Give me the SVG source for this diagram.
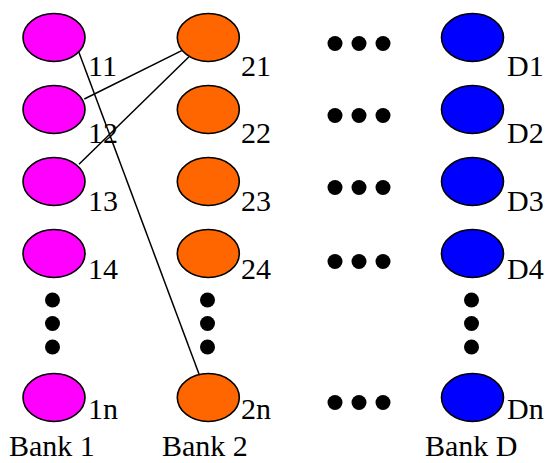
<svg xmlns="http://www.w3.org/2000/svg" width="546" height="463" viewBox="0 0 546 463">
<style>
.b1{fill:#FF00FF;stroke:#000;stroke-width:1.6}
.b2{fill:#FF6600;stroke:#000;stroke-width:1.6}
.bd{fill:#0000FF;stroke:#000;stroke-width:1.6}
text{font-family:"Liberation Serif","Times New Roman",serif;font-size:30px;fill:#000}
.dot{fill:#000}
line{stroke:#000;stroke-width:1.5}
</style>
<rect width="546" height="463" fill="#fff"/>
<g id="connectors">
<line x1="78.7" y1="51.7" x2="199" y2="374"/>
<line x1="84.3" y1="99" x2="181.7" y2="50.7"/>
<line x1="79" y1="164.3" x2="189" y2="56.7"/>
</g>
<g id="n11"><ellipse class="b1" cx="54" cy="37.5" rx="31" ry="24"/><text x="88" y="76">11</text></g>
<g id="n12"><ellipse class="b1" cx="54" cy="109.5" rx="31" ry="24"/><text x="88" y="143">12</text></g>
<g id="n13"><ellipse class="b1" cx="54" cy="181.5" rx="31" ry="24"/><text x="88" y="211">13</text></g>
<g id="n14"><ellipse class="b1" cx="54" cy="253.5" rx="31" ry="24"/><text x="88" y="279">14</text></g>
<g id="n1n"><ellipse class="b1" cx="54" cy="397.5" rx="31" ry="24"/><text x="88" y="419">1n</text></g>
<g id="n21"><ellipse class="b2" cx="208.3" cy="37.5" rx="31" ry="24"/><text x="241" y="76">21</text></g>
<g id="n22"><ellipse class="b2" cx="208.3" cy="109.5" rx="31" ry="24"/><text x="241" y="143">22</text></g>
<g id="n23"><ellipse class="b2" cx="208.3" cy="181.5" rx="31" ry="24"/><text x="241" y="211">23</text></g>
<g id="n24"><ellipse class="b2" cx="208.3" cy="253.5" rx="31" ry="24"/><text x="241" y="279">24</text></g>
<g id="n2n"><ellipse class="b2" cx="208.3" cy="397.5" rx="31" ry="24"/><text x="241" y="419">2n</text></g>
<g id="nD1"><ellipse class="bd" cx="472.5" cy="37.5" rx="31" ry="24"/><text x="507" y="76">D1</text></g>
<g id="nD2"><ellipse class="bd" cx="472.5" cy="109.5" rx="31" ry="24"/><text x="507" y="143">D2</text></g>
<g id="nD3"><ellipse class="bd" cx="472.5" cy="181.5" rx="31" ry="24"/><text x="507" y="211">D3</text></g>
<g id="nD4"><ellipse class="bd" cx="472.5" cy="253.5" rx="31" ry="24"/><text x="507" y="279">D4</text></g>
<g id="nDn"><ellipse class="bd" cx="472.5" cy="397.5" rx="31" ry="24"/><text x="507" y="419">Dn</text></g>
<g id="hdots">
<circle class="dot" cx="335" cy="43.5" r="7.5"/><circle class="dot" cx="359" cy="43.5" r="7.5"/><circle class="dot" cx="383" cy="43.5" r="7.5"/>
<circle class="dot" cx="335" cy="115.5" r="7.5"/><circle class="dot" cx="359" cy="115.5" r="7.5"/><circle class="dot" cx="383" cy="115.5" r="7.5"/>
<circle class="dot" cx="335" cy="187.5" r="7.5"/><circle class="dot" cx="359" cy="187.5" r="7.5"/><circle class="dot" cx="383" cy="187.5" r="7.5"/>
<circle class="dot" cx="335" cy="261.5" r="7.5"/><circle class="dot" cx="359" cy="261.5" r="7.5"/><circle class="dot" cx="383" cy="261.5" r="7.5"/>
<circle class="dot" cx="335" cy="402.5" r="7.5"/><circle class="dot" cx="359" cy="402.5" r="7.5"/><circle class="dot" cx="383" cy="402.5" r="7.5"/>
</g>
<g id="vdots">
<circle class="dot" cx="52.5" cy="300" r="7.5"/><circle class="dot" cx="52.5" cy="323.5" r="7.5"/><circle class="dot" cx="52.5" cy="347" r="7.5"/>
<circle class="dot" cx="207.5" cy="300" r="7.5"/><circle class="dot" cx="207.5" cy="323.5" r="7.5"/><circle class="dot" cx="207.5" cy="347" r="7.5"/>
<circle class="dot" cx="471.5" cy="300" r="7.5"/><circle class="dot" cx="471.5" cy="323.5" r="7.5"/><circle class="dot" cx="471.5" cy="347" r="7.5"/>
</g>
<g id="bank-labels">
<text x="9" y="456">Bank 1</text>
<text x="162" y="456">Bank 2</text>
<text x="425" y="456">Bank D</text>
</g>
</svg>
